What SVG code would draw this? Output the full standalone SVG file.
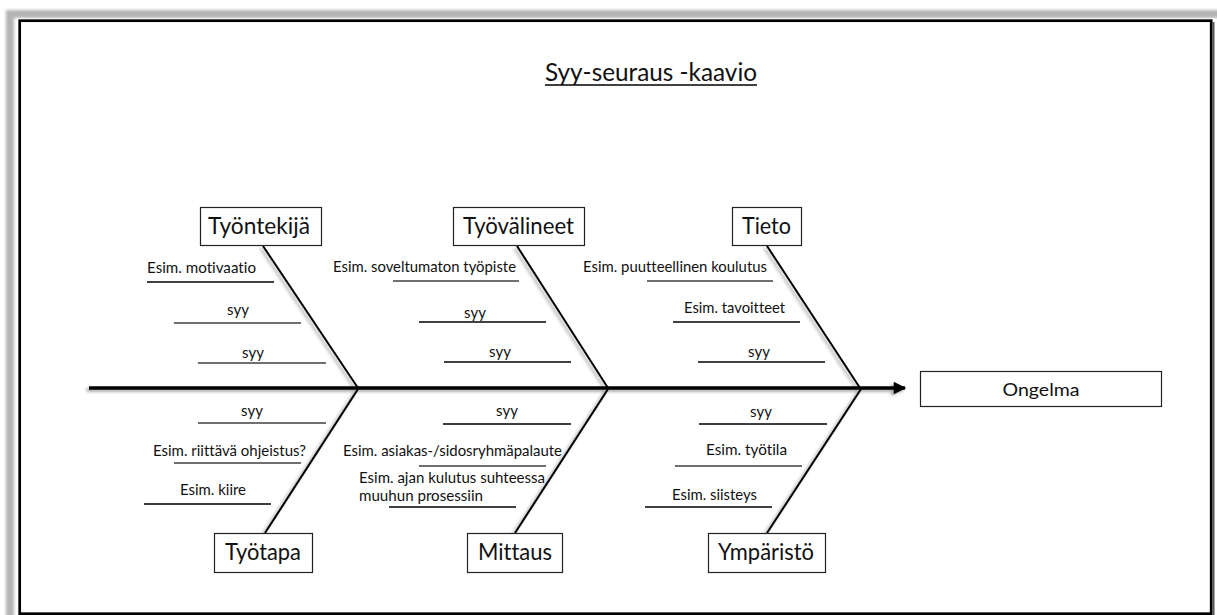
<svg xmlns="http://www.w3.org/2000/svg" width="1217" height="615" viewBox="0 0 1217 615">
  <defs>
    <filter id="soft" x="-5%" y="-5%" width="110%" height="110%">
      <feGaussianBlur stdDeviation="1.8"/>
    </filter>
    <filter id="bone-shadow" x="-20%" y="-20%" width="140%" height="140%">
      <feDropShadow dx="-2.5" dy="2" stdDeviation="1.4" flood-color="#000" flood-opacity="0.35"/>
    </filter>
    <marker id="head" viewBox="0 0 10 10" refX="9" refY="5" markerWidth="4" markerHeight="3.6" orient="auto" markerUnits="strokeWidth">
      <path d="M0,0 L10,5 L0,10 z" fill="#000"/>
    </marker>
    <style>
      text { font-family: Lato, "Open Sans", "Liberation Sans", sans-serif; fill: #111; font-variant-ligatures: none; }
      .box { fill: #fff; stroke: #222; stroke-width: 1.2; }
      .cat { font-size: 22.5px; text-anchor: middle; }
      .lbl { font-size: 15px; }
      .mid { text-anchor: middle; }
      .bone { stroke: #000; stroke-width: 2; fill: none; }
      .rule { stroke: #000; stroke-width: 1.3; }
      .rule-g { stroke: #6f6f6f; stroke-width: 1.8; }
    </style>
  </defs>

  <!-- page background with soft edge and frame -->
  <rect width="1217" height="615" fill="#fff"/>
  <rect x="10" y="14" width="1215" height="610" fill="none" stroke="#b4b4b4" stroke-width="8" filter="url(#soft)"/>
  <rect x="16.5" y="18.5" width="1200" height="600" fill="#fff"/>
  <rect x="19.7" y="20.7" width="1191.5" height="593" fill="none" stroke="#000" stroke-width="2.7"/>
  <line x1="1213.5" y1="22" x2="1213.5" y2="615" stroke="#555" stroke-width="2"/>

  <!-- title -->
  <g id="title">
    <text x="651" y="81" font-size="25" text-anchor="middle" textLength="212" lengthAdjust="spacingAndGlyphs">Syy-seuraus -kaavio</text>
    <line x1="545" y1="85" x2="757" y2="85" stroke="#000" stroke-width="1.3"/>
  </g>

  <!-- spine and category bones -->
  <g id="connectors" filter="url(#bone-shadow)">
    <line x1="89" y1="388" x2="905" y2="388" stroke="#000" stroke-width="3.5" marker-end="url(#head)"/>
    <line class="bone" x1="263" y1="246" x2="358" y2="388"/>
    <line class="bone" x1="517" y1="246" x2="608" y2="388"/>
    <line class="bone" x1="767" y1="246" x2="860" y2="388"/>
    <line class="bone" x1="265" y1="533" x2="358" y2="389"/>
    <line class="bone" x1="515" y1="533" x2="608" y2="389"/>
    <line class="bone" x1="767" y1="533" x2="861" y2="389"/>
  </g>

  <!-- effect -->
  <g id="ongelma">
    <rect class="box" x="920.5" y="371.5" width="241" height="35"/>
    <text x="1041" y="396" font-size="18" text-anchor="middle" textLength="77" lengthAdjust="spacingAndGlyphs">Ongelma</text>
  </g>

  <!-- upper categories -->
  <g id="tyontekija">
    <rect class="box" x="200.5" y="207.5" width="121" height="38"/>
    <text class="cat" x="259" y="234" textLength="102" lengthAdjust="spacingAndGlyphs">Työntekijä</text>
    <text class="lbl" x="147" y="273" textLength="109" lengthAdjust="spacingAndGlyphs">Esim. motivaatio</text>
    <line class="rule" x1="147" y1="282" x2="274" y2="282"/>
    <text class="lbl mid" x="238" y="315">syy</text>
    <line class="rule-g" x1="174" y1="323" x2="301" y2="323"/>
    <text class="lbl mid" x="253" y="358">syy</text>
    <line class="rule-g" x1="198" y1="363" x2="326" y2="363"/>
  </g>

  <g id="tyovalineet">
    <rect class="box" x="453.5" y="207.5" width="131" height="38"/>
    <text class="cat" x="518.5" y="234" textLength="111" lengthAdjust="spacingAndGlyphs">Työvälineet</text>
    <text class="lbl" x="333" y="272" textLength="183" lengthAdjust="spacingAndGlyphs">Esim. soveltumaton työpiste</text>
    <line class="rule-g" x1="393" y1="281" x2="519" y2="281"/>
    <text class="lbl mid" x="475" y="318">syy</text>
    <line class="rule" x1="419" y1="322" x2="546" y2="322"/>
    <text class="lbl mid" x="500" y="357">syy</text>
    <line class="rule" x1="444" y1="362" x2="571" y2="362"/>
  </g>

  <g id="tieto">
    <rect class="box" x="732.5" y="207.5" width="69" height="38"/>
    <text class="cat" x="766.5" y="234" textLength="49" lengthAdjust="spacingAndGlyphs">Tieto</text>
    <text class="lbl" x="583" y="272" textLength="184" lengthAdjust="spacingAndGlyphs">Esim. puutteellinen koulutus</text>
    <line class="rule-g" x1="647" y1="281" x2="773" y2="281"/>
    <text class="lbl" x="684" y="313" textLength="101" lengthAdjust="spacingAndGlyphs">Esim. tavoitteet</text>
    <line class="rule" x1="673" y1="322" x2="800" y2="322"/>
    <text class="lbl mid" x="759" y="357">syy</text>
    <line class="rule" x1="698" y1="362" x2="825" y2="362"/>
  </g>

  <!-- lower categories -->
  <g id="tyotapa">
    <rect class="box" x="214.5" y="533.5" width="98" height="39"/>
    <text class="cat" x="263" y="560" textLength="76" lengthAdjust="spacingAndGlyphs">Työtapa</text>
    <text class="lbl mid" x="252" y="416">syy</text>
    <line class="rule-g" x1="198" y1="423" x2="326" y2="423"/>
    <text class="lbl" x="153" y="456" textLength="153" lengthAdjust="spacingAndGlyphs">Esim. riittävä ohjeistus?</text>
    <line class="rule-g" x1="174" y1="463" x2="301" y2="463"/>
    <text class="lbl" x="180" y="495" textLength="66" lengthAdjust="spacingAndGlyphs">Esim. kiire</text>
    <line class="rule" x1="144" y1="504" x2="271" y2="504"/>
  </g>

  <g id="mittaus">
    <rect class="box" x="467.5" y="533.5" width="95" height="39"/>
    <text class="cat" x="515" y="560" textLength="74" lengthAdjust="spacingAndGlyphs">Mittaus</text>
    <text class="lbl mid" x="507" y="416">syy</text>
    <line class="rule" x1="443" y1="424" x2="571" y2="424"/>
    <text class="lbl" x="343" y="456" textLength="219" lengthAdjust="spacingAndGlyphs">Esim. asiakas-/sidosryhmäpalaute</text>
    <line class="rule-g" x1="419" y1="466" x2="546" y2="466"/>
    <text class="lbl" x="359" y="483" textLength="186" lengthAdjust="spacingAndGlyphs">Esim. ajan kulutus suhteessa</text>
    <text class="lbl" x="359" y="501" textLength="124" lengthAdjust="spacingAndGlyphs">muuhun prosessiin</text>
    <line class="rule" x1="389" y1="507" x2="516" y2="507"/>
  </g>

  <g id="ymparisto">
    <rect class="box" x="708.5" y="533.5" width="117" height="39"/>
    <text class="cat" x="766" y="560" textLength="96" lengthAdjust="spacingAndGlyphs">Ympäristö</text>
    <text class="lbl mid" x="761" y="417">syy</text>
    <line class="rule" x1="699" y1="424" x2="827" y2="424"/>
    <text class="lbl" x="706" y="455" textLength="81" lengthAdjust="spacingAndGlyphs">Esim. työtila</text>
    <line class="rule-g" x1="675" y1="466" x2="802" y2="466"/>
    <text class="lbl" x="672" y="500" textLength="85" lengthAdjust="spacingAndGlyphs">Esim. siisteys</text>
    <line class="rule" x1="645" y1="507" x2="772" y2="507"/>
  </g>
</svg>
